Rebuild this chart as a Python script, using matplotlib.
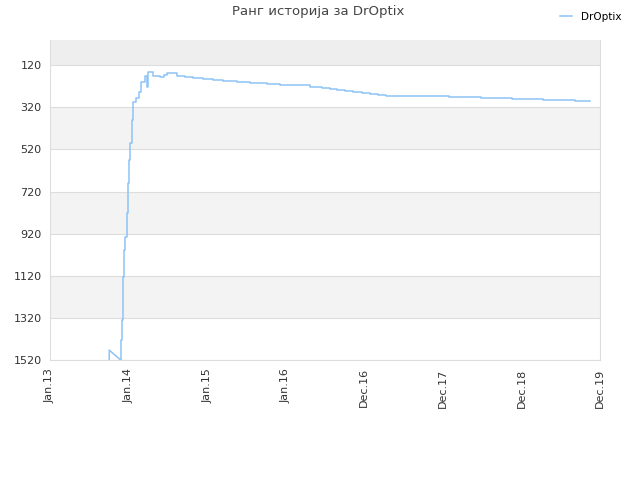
import matplotlib
matplotlib.use('Agg')
from matplotlib import pyplot as plt

# x in tick units (0 = Jan.13, 1 = Jan.14, ... 7 = Dec.19)
tick_labels = ['Jan.13', 'Jan.14', 'Jan.15', 'Jan.16', 'Dec.16', 'Dec.17', 'Dec.18', 'Dec.19']
y_ticks = [120, 320, 520, 720, 920, 1120, 1320, 1520]

# first segment (short rise, then sloped drop)
x_start = [0.755, 0.755, 0.900]
r_start = [1520, 1473, 1520]

# step changes afterwards
x_steps = [0.900, 0.900, 0.913, 0.925, 0.938, 0.955, 0.976, 0.989, 1.005, 1.025,
           1.044, 1.063, 1.095, 1.133, 1.165, 1.209, 1.235, 1.247, 1.311, 1.400,
           1.451, 1.489, 1.613, 1.718, 1.820, 1.947, 2.075, 2.202, 2.380, 2.546,
           2.762, 2.927, 3.144, 3.309, 3.462, 3.564, 3.653, 3.755, 3.856, 3.971,
           4.073, 4.175, 4.276, 5.078, 5.485, 5.880, 6.275, 6.682, 6.873]
r_steps = [1520, 1425, 1330, 1125, 998, 935, 822, 680, 571, 490,
           381, 294, 277, 248, 201, 172, 223, 152, 172, 176,
           165, 159, 169, 175, 180, 185, 190, 195, 199, 204,
           209, 212, 216, 221, 226, 232, 237, 242, 247, 251,
           256, 261, 266, 270, 275, 280, 285, 289, 289]

line_color = '#8ec3f5'

fig = plt.figure(figsize=(6.4, 4.8), dpi=100)
ax = fig.add_axes([0.078, 0.25, 0.8595, 0.6667])

# background bands
ax.axhspan(0, 120, color='#eeeeee', lw=0, zorder=0)
for lo in [320, 720, 1120]:
    ax.axhspan(lo, lo + 200, color='#f3f3f3', lw=0, zorder=0)
for yt in y_ticks:
    ax.axhline(yt, color='#dddddd', lw=0.8, zorder=1)

ax.plot(x_start, r_start, color=line_color, lw=1.1, zorder=3)
ax.step(x_steps, r_steps, where='post', color=line_color, lw=1.1, zorder=3, label='DrOptix')

ax.set_xlim(0, 7)
ax.set_ylim(1520, 0)
ax.set_yticks(y_ticks)
ax.set_yticklabels([str(v) for v in y_ticks], fontsize=8, color='#333333')
ax.set_xticks(range(len(tick_labels)))
ax.set_xticklabels(tick_labels, rotation=90, fontsize=8, color='#333333')
ax.tick_params(length=0, pad=6)

for s in ['left', 'bottom', 'right']:
    ax.spines[s].set_color('#dddddd')
ax.spines['top'].set_visible(False)

fig.text(0.497, 0.975, 'Ранг историја за DrOptix', ha='center', va='center', fontsize=9.5, color='#444444')
fig.legend(loc='upper right', bbox_to_anchor=(0.985, 0.995), frameon=False, fontsize=7.5, handlelength=1.2)

fig.savefig('out.png', dpi=100)
